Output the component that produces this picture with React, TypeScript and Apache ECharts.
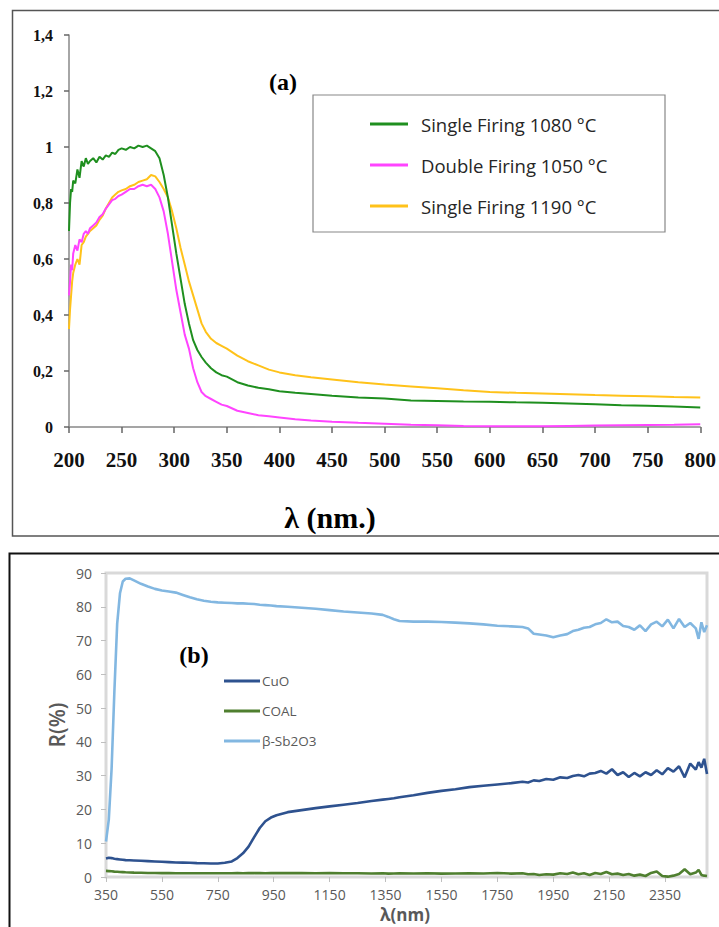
import React, { useEffect, useRef } from "react";
import * as echarts from "echarts";

// ---------- Panel (a) ----------
const topWl = [
  200, 201, 202, 203, 204, 206, 208, 210, 212, 214, 216, 218, 220,
  223, 226, 229, 232, 235, 238, 241, 244, 247,
  250, 254, 258, 262, 266, 270, 274, 278, 282, 286, 290, 294, 298, 302, 306, 310, 314, 318, 322, 326, 330,
  335, 340, 345, 350,
  360, 370, 380, 390, 400,
  415, 430,
  450, 475, 500, 525, 550, 575, 600, 625, 650, 675, 700, 725, 750, 775, 800,
];
const single1080 = [
  0.70, 0.80, 0.85, 0.84, 0.88, 0.87, 0.92, 0.89, 0.95, 0.93, 0.96, 0.94, 0.95,
  0.96, 0.945, 0.965, 0.955, 0.97, 0.965, 0.98, 0.975, 0.99,
  0.995, 0.99, 1.0, 0.995, 1.005, 1.0, 1.005, 0.995, 0.985, 0.96, 0.9, 0.82, 0.72, 0.62, 0.53, 0.44, 0.37, 0.31, 0.275, 0.25, 0.23,
  0.21, 0.195, 0.185, 0.18,
  0.16, 0.148, 0.14, 0.135, 0.128,
  0.122, 0.118,
  0.112, 0.105, 0.102, 0.095, 0.093, 0.091, 0.09, 0.088, 0.087, 0.084, 0.081, 0.078, 0.076, 0.073, 0.07,
];
const double1050 = [
  0.47, 0.52, 0.58, 0.56, 0.62, 0.65, 0.63, 0.67, 0.66, 0.69, 0.70, 0.69, 0.71,
  0.72, 0.73, 0.75, 0.76, 0.78, 0.795, 0.81, 0.815, 0.825,
  0.83, 0.84, 0.85, 0.85, 0.86, 0.865, 0.86, 0.865, 0.85, 0.82, 0.77, 0.69, 0.59, 0.49, 0.41, 0.33, 0.28, 0.21, 0.16, 0.125, 0.11,
  0.10, 0.09, 0.08, 0.075,
  0.058, 0.05, 0.042, 0.038, 0.034,
  0.028, 0.023,
  0.019, 0.015, 0.012, 0.008, 0.006, 0.004, 0.003, 0.003, 0.003, 0.004, 0.005, 0.006, 0.007, 0.008, 0.01,
];
const single1190 = [
  0.35, 0.42, 0.47, 0.52, 0.55, 0.58, 0.60, 0.58, 0.65, 0.66, 0.68, 0.69, 0.70,
  0.71, 0.72, 0.74, 0.755, 0.78, 0.80, 0.82, 0.83, 0.84,
  0.845, 0.85, 0.86, 0.865, 0.875, 0.88, 0.885, 0.90, 0.895, 0.875, 0.85, 0.82, 0.77, 0.71, 0.64, 0.58, 0.52, 0.47, 0.42, 0.37, 0.34,
  0.315, 0.30, 0.29, 0.28,
  0.255, 0.235, 0.22, 0.205, 0.195,
  0.185, 0.178,
  0.17, 0.16, 0.152, 0.145, 0.138, 0.131, 0.125, 0.122, 0.12, 0.117, 0.114, 0.112, 0.11, 0.107, 0.105,
];
const topNames = ["Single Firing 1080 °C", "Double Firing 1050 °C", "Single Firing 1190 °C"];
const topColors = ["#1f8f1f", "#ff44ff", "#ffc21a"];

// ---------- Panel (b) ----------
const botWl = [
  350, 360, 370, 380, 390, 400, 410, 420, 435, 450,
  475, 500, 525, 550, 575, 600, 625, 650, 675, 700, 725, 750, 775, 800,
  820, 840, 860, 880, 900, 920, 940, 960,
  1000, 1050, 1100, 1150, 1200, 1250, 1300,
  1340, 1360, 1380, 1400,
  1450, 1500, 1550, 1600, 1650, 1700, 1750, 1800,
  1840, 1860, 1880, 1900, 1925, 1950, 1975, 2000,
  2020, 2040, 2060, 2080, 2100, 2120, 2140, 2160, 2180, 2200, 2220, 2240, 2260, 2280, 2300, 2320, 2340, 2360, 2380, 2400, 2420, 2440, 2460,
  2470, 2480, 2490, 2500,
];
const cuo = [
  5.5, 5.7, 5.6, 5.4, 5.3, 5.2, 5.1, 5.0, 4.95, 4.9,
  4.8, 4.7, 4.6, 4.5, 4.4, 4.3, 4.25, 4.2, 4.1, 4.05, 4.0, 4.0, 4.2, 4.6,
  5.6, 7.0, 9.0, 11.8, 14.5, 16.5, 17.6, 18.3,
  19.2, 19.8, 20.4, 20.9, 21.4, 21.9, 22.5,
  22.9, 23.1, 23.3, 23.6,
  24.2, 24.9, 25.5, 26.0, 26.6, 27.0, 27.4, 27.8,
  28.2, 28.0, 28.6, 28.4, 29.0, 28.8, 29.5, 29.3,
  29.9, 30.2, 29.8, 30.6, 30.8, 31.4, 30.6, 31.9, 30.2, 31.0, 29.6, 30.8, 29.8, 31.0, 30.2, 31.6, 30.4, 32.2, 31.2, 32.8, 29.5, 33.6, 31.8,
  34.0, 32.4, 35.0, 30.5,
];
const coal = [
  1.8, 1.75, 1.7, 1.6, 1.55, 1.5, 1.45, 1.4, 1.35, 1.3,
  1.25, 1.2, 1.2, 1.15, 1.15, 1.1, 1.1, 1.1, 1.1, 1.1, 1.1, 1.1, 1.1, 1.1,
  1.15, 1.1, 1.2, 1.15, 1.2, 1.1, 1.2, 1.15,
  1.15, 1.2, 1.1, 1.15, 1.1, 1.1, 1.05,
  1.1, 1.0, 1.05, 1.1,
  1.05, 1.1, 1.0, 1.05, 1.1, 1.05, 1.2, 1.0,
  1.1, 0.8, 0.9, 0.6, 0.8, 0.7, 1.1, 0.9,
  1.3, 0.8, 1.1, 0.6, 1.2, 0.9, 1.5, 0.8, 1.0, 0.6, 0.9, 0.4, 0.7, 0.3, 1.2, 1.6, 0.3, 0.1, 0.4, 0.9, 2.3, 0.8, 1.3,
  2.1, 0.6, 0.4, 0.3,
];
const sb2o3 = [
  10.5, 17, 32, 55, 75, 84, 87.5, 88.3, 88.4, 87.8,
  86.8, 86, 85.3, 84.8, 84.5, 84.2, 83.5, 82.8, 82.2, 81.8, 81.5, 81.3, 81.2, 81.1,
  81.0, 81.0, 80.9, 80.8, 80.6, 80.5, 80.4, 80.2,
  80.0, 79.7, 79.4, 79.0, 78.6, 78.3, 78.0,
  77.6, 77.0, 76.3, 75.8,
  75.6, 75.6, 75.5, 75.3, 75.1, 74.8, 74.4, 74.2,
  74.0, 73.6, 72.0, 71.8, 71.5, 71.0, 71.5, 71.9,
  72.8, 73.2, 73.8, 74.0, 74.8, 75.2, 76.3, 75.4, 75.6, 74.3, 74.0, 73.2, 74.5, 72.8, 74.8, 75.6, 74.2, 76.2, 73.6, 76.4, 74.0, 75.2, 73.6,
  70.5, 75.4, 72.5, 74.5,
];
const botNames = ["CuO", "COAL", "β-Sb2O3"];
const botColors = ["#2e528f", "#4f7f2f", "#82b7e1"];
const botTicks = [350, 550, 750, 950, 1150, 1350, 1550, 1750, 1950, 2150, 2350];

const zip = (xs: number[], ys: number[]) => xs.map((x, i) => [x, ys[i]]);

export default function App() {
  const ref = useRef<HTMLDivElement>(null);
  useEffect(() => {
    if (!ref.current) return;
    const chart = echarts.init(ref.current, null, { renderer: "svg" });
    const serif = "Liberation Serif";
    const sans = "Open Sans";
    const gray = "#595959";
    const topSeries = [single1080, double1050, single1190].map((vals, i) => ({
      name: topNames[i],
      type: "line",
      xAxisIndex: 0,
      yAxisIndex: 0,
      data: zip(topWl, vals),
      symbol: "none",
      lineStyle: { color: topColors[i], width: 2 },
      itemStyle: { color: topColors[i] },
      z: 3 - i,
    }));
    const botSeries = [cuo, coal, sb2o3].map((vals, i) => ({
      name: botNames[i],
      type: "line",
      xAxisIndex: 1,
      yAxisIndex: 1,
      data: zip(botWl, vals),
      symbol: "none",
      lineStyle: { color: botColors[i], width: 2.6 },
      itemStyle: { color: botColors[i] },
    }));
    chart.setOption({
      animation: false,
      backgroundColor: "#ffffff",
      grid: [
        { left: 69, right: 13, top: 35, bottom: 500 },
        { left: 106, right: 12, top: 573, bottom: 50, show: true, borderColor: "#d9d9d9", borderWidth: 3 },
      ],
      xAxis: [
        {
          type: "value",
          gridIndex: 0,
          min: 200,
          max: 800,
          interval: 50,
          axisLine: { show: true, lineStyle: { color: "#888", width: 1.5 } },
          axisTick: { show: true, length: 6, lineStyle: { color: "#666", width: 1.5 } },
          splitLine: { show: false },
          axisLabel: { color: "#111", fontFamily: serif, fontWeight: "bold", fontSize: 21, margin: 22, showMaxLabel: true },
        },
        {
          type: "value",
          gridIndex: 1,
          min: 350,
          max: 2500,
          axisLine: { show: false },
          axisTick: { show: true, length: 5, customValues: botTicks, lineStyle: { color: "#bfbfbf", width: 1 } },
          splitLine: { show: false },
          axisLabel: {
            color: gray,
            fontFamily: sans,
            fontSize: 14,
            margin: 10,
            customValues: botTicks,
            formatter: (v: number) => String(v),
          },
        },
      ],
      yAxis: [
        {
          type: "value",
          gridIndex: 0,
          min: 0,
          max: 1.4,
          interval: 0.2,
          axisLine: { show: true, lineStyle: { color: "#888", width: 1.5 } },
          axisTick: { show: true, length: 5, lineStyle: { color: "#666", width: 1.5 } },
          splitLine: { show: false },
          axisLabel: {
            color: "#111",
            fontFamily: serif,
            fontWeight: "bold",
            fontSize: 16,
            margin: 16,
            formatter: (v: number) => String(+v.toFixed(1)).replace(".", ","),
          },
        },
        {
          type: "value",
          gridIndex: 1,
          min: 0,
          max: 90,
          interval: 10,
          axisLine: { show: false },
          axisTick: { show: true, length: 5, lineStyle: { color: "#bfbfbf", width: 1 } },
          splitLine: { show: false },
          axisLabel: { color: gray, fontFamily: sans, fontSize: 14, margin: 14 },
        },
      ],
      legend: [
        {
          data: topNames,
          orient: "vertical",
          left: 365,
          top: 108,
          itemWidth: 38,
          itemHeight: 3,
          itemGap: 19,
          icon: "rect",
          textStyle: { fontFamily: sans, fontSize: 18.5, color: "#262626", lineHeight: 22, padding: [0, 0, 0, 8] },
          selectedMode: false,
          z: 6,
        },
        {
          data: botNames,
          orient: "vertical",
          left: 219,
          top: 667,
          itemWidth: 36,
          itemHeight: 3,
          itemGap: 12,
          icon: "rect",
          textStyle: { fontFamily: sans, fontSize: 13.5, color: gray, lineHeight: 18, padding: [0, 0, 0, -3] },
          selectedMode: false,
          z: 6,
        },
      ],
      graphic: [
        { type: "rect", shape: { x: 12.5, y: 10.5, width: 720, height: 525.5 }, style: { fill: "none", stroke: "#555", lineWidth: 1.5 }, silent: true, z: 0 },
        { type: "rect", shape: { x: 9.5, y: 553.5, width: 720, height: 400 }, style: { fill: "none", stroke: "#111", lineWidth: 2 }, silent: true, z: 0 },
        { type: "rect", shape: { x: 313, y: 95, width: 352, height: 137 }, style: { fill: "#ffffff", stroke: "#888", lineWidth: 1.2 }, silent: true, z: 5 },
        { type: "text", x: 283, y: 82, style: { text: "(a)", font: `bold 24px "${serif}"`, fill: "#000", align: "center", verticalAlign: "middle" }, z: 6 },
        { type: "text", x: 330, y: 517, style: { text: "λ (nm.)", font: `bold 30px "${serif}"`, fill: "#000", align: "center", verticalAlign: "middle" }, z: 6 },
        { type: "text", x: 194, y: 655, style: { text: "(b)", font: `bold 24px "${serif}"`, fill: "#000", align: "center", verticalAlign: "middle" }, z: 6 },
        { type: "text", x: 57, y: 725, rotation: Math.PI / 2, style: { text: "R(%)", font: `600 21px "${sans}"`, fill: gray, align: "center", verticalAlign: "middle" }, z: 6 },
        { type: "text", x: 405, y: 914, style: { text: "λ(nm)", font: `bold 17px "${sans}"`, fill: gray, align: "center", verticalAlign: "middle" }, z: 6 },
      ],
      series: [...topSeries, ...botSeries],
    });
    return () => chart.dispose();
  }, []);
  return <div ref={ref} style={{ position: "absolute", left: 0, top: 0, width: 719, height: 927 }} />;
}
